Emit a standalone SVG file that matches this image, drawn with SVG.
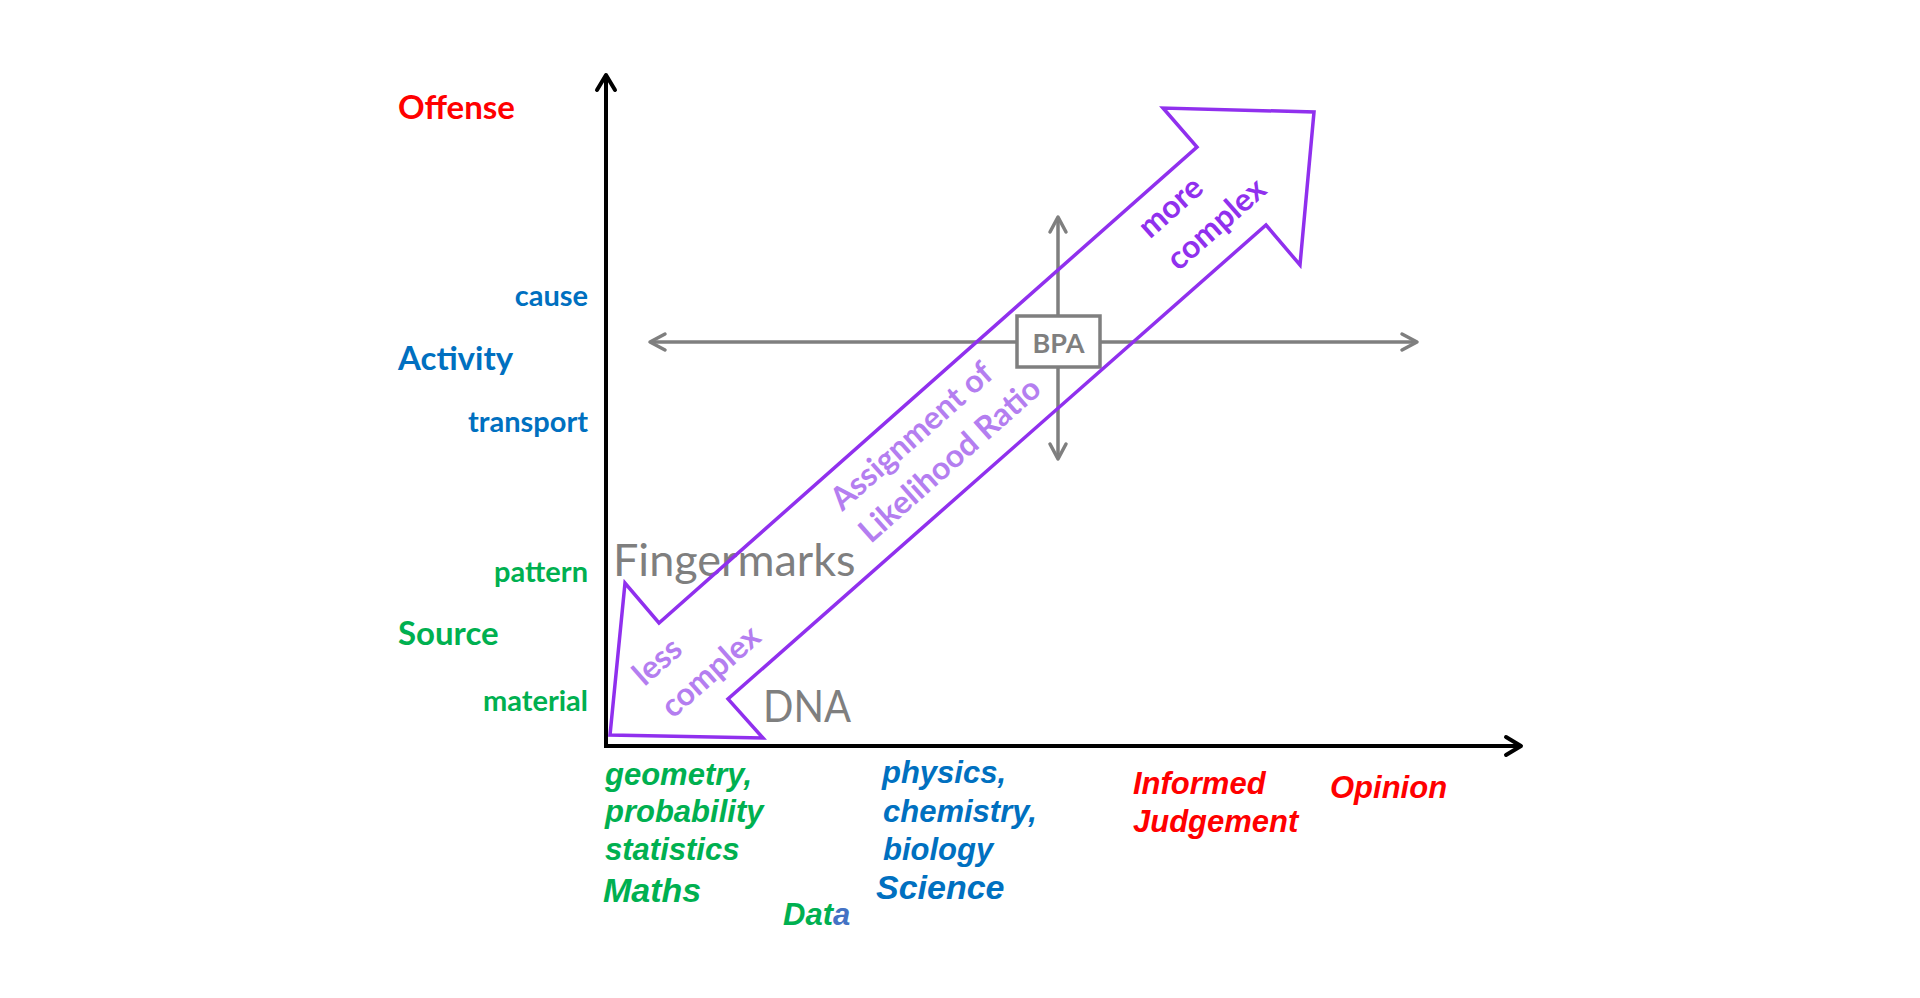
<svg xmlns="http://www.w3.org/2000/svg" width="1920" height="998" viewBox="0 0 1920 998">
<defs>
<style>
.cal{font-family:Lato,"Liberation Sans",sans-serif;font-weight:bold}
.calr{font-family:Lato,"Liberation Sans",sans-serif;font-weight:normal}
.ari{font-family:"Liberation Sans",Arial,sans-serif;font-weight:bold;font-style:italic}
.red{fill:#ff0000}
.blue{fill:#0070c0}
.green{fill:#00b050}
.gray{fill:#7f7f7f}
.big{font-size:33px}
.small{font-size:29px}
.bl{font-size:31px}
.bh{font-size:34px}
.axis{stroke:#000;stroke-width:4;fill:none}
.garrow{stroke:#7f7f7f;stroke-width:3.5;fill:none}
.ptxt{font-size:32px}
.dark{fill:#9030ee}
.light{fill:#b47ef0}
</style>
<marker id="ahK" markerUnits="userSpaceOnUse" markerWidth="26" markerHeight="26" viewBox="-4 -4 26 26" refX="15" refY="9" orient="auto-start-reverse">
<path d="M0,0 L15,9 L0,18" fill="none" stroke="#000" stroke-width="4" stroke-linecap="round" stroke-linejoin="round"/>
</marker>
<marker id="ahG" markerUnits="userSpaceOnUse" markerWidth="26" markerHeight="26" viewBox="-4 -4 26 26" refX="15" refY="8" orient="auto-start-reverse">
<path d="M0,0 L15,8 L0,16" fill="none" stroke="#7f7f7f" stroke-width="3.5" stroke-linecap="round" stroke-linejoin="round"/>
</marker>
</defs>
<rect x="0" y="0" width="1920" height="998" fill="#ffffff"/>

<g id="connectors">
<line class="axis" x1="606" y1="746" x2="606" y2="75" marker-end="url(#ahK)"/>
<line class="axis" x1="604" y1="746" x2="1521" y2="746" marker-end="url(#ahK)"/>
<line class="garrow" x1="650" y1="342" x2="1417" y2="342" marker-start="url(#ahG)" marker-end="url(#ahG)"/>
<line class="garrow" x1="1058" y1="217" x2="1058" y2="459" marker-start="url(#ahG)" marker-end="url(#ahG)"/>
</g>

<g id="node-bpa">
<rect x="1017" y="316" width="83" height="51" fill="#ffffff" stroke="#7f7f7f" stroke-width="3.5"/>
<text class="cal gray" x="1058.5" y="353" font-size="27" text-anchor="middle">BPA</text>
</g>

<g id="y-labels">
<text class="cal red big" x="398" y="119">Offense</text>
<text class="cal blue small" x="588" y="306" text-anchor="end">cause</text>
<text class="cal blue big" x="398" y="370">Activity</text>
<text class="cal blue small" x="588" y="432" text-anchor="end">transport</text>
<text class="cal green small" x="588" y="582" text-anchor="end">pattern</text>
<text class="cal green big" x="398" y="645">Source</text>
<text class="cal green small" x="588" y="711" text-anchor="end">material</text>
</g>

<g id="node-fingermarks">
<text class="calr gray" x="613" y="576" font-size="45">Fingermarks</text>
</g>
<g id="node-dna">
<text class="calr gray" x="763" y="722" font-size="45" textLength="88" lengthAdjust="spacingAndGlyphs">DNA</text>
</g>

<g id="x-labels">
<text class="ari green bl" x="605" y="785">geometry,</text>
<text class="ari green bl" x="605" y="822">probability</text>
<text class="ari green bl" x="605" y="860">statistics</text>
<text class="ari green bh" x="603" y="902">Maths</text>
<text class="ari bl" x="783" y="925" font-size="30"><tspan class="green">Dat</tspan><tspan fill="#4472c4">a</tspan></text>
<text class="ari blue bl" x="882" y="783">physics,</text>
<text class="ari blue bl" x="883" y="822">chemistry,</text>
<text class="ari blue bl" x="883" y="860">biology</text>
<text class="ari blue bh" x="876" y="899">Science</text>
<text class="ari red bl" x="1133" y="794">Informed</text>
<text class="ari red bl" x="1133" y="832">Judgement</text>
<text class="ari red bl" x="1330" y="798">Opinion</text>
</g>

<g id="node-lr-arrow">
<polygon points="1314,112 1300,265 1266,225 728,699 763,738 610,735 625,583 659,623 1197,147 1163,108" fill="none" stroke="#9030ee" stroke-width="3.5" stroke-linejoin="miter"/>
<g transform="translate(653.1,696.8) rotate(-41.5)">
<text class="cal light ptxt" x="0" y="-13">less</text>
<text class="cal light ptxt" x="0" y="30">complex</text>
</g>
<g transform="translate(850.8,521.8) rotate(-41.5)">
<text class="cal light ptxt" x="0" y="-13">Assignment of</text>
<text class="cal light ptxt" x="0" y="30">Likelihood Ratio</text>
</g>
<g transform="translate(1158.6,249.3) rotate(-41.5)">
<text class="cal dark ptxt" x="0" y="-13">more</text>
<text class="cal dark ptxt" x="0" y="30">complex</text>
</g>
</g>
</svg>
